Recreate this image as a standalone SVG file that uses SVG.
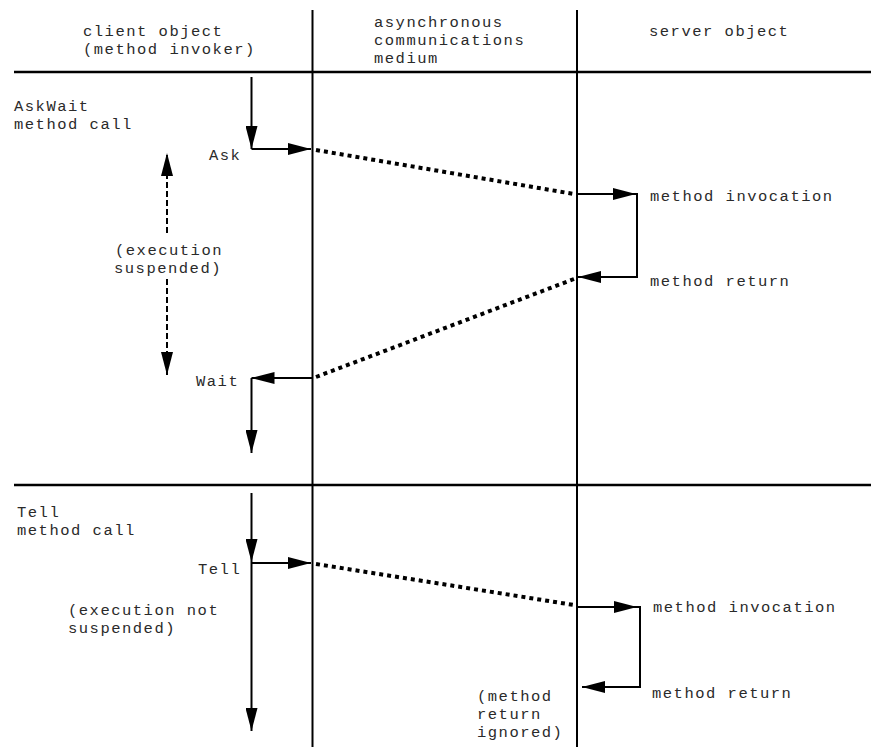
<svg xmlns="http://www.w3.org/2000/svg" width="871" height="747" viewBox="0 0 871 747">
  <style>
    text { font-family: "Liberation Mono", "DejaVu Sans Mono", monospace; font-size: 15.5px; letter-spacing: 1.5px; fill: #2a2a2a; }
    .rule { stroke: #000; stroke-width: 2.5; fill: none; }
    .life { stroke: #000; stroke-width: 2; fill: none; }
    .flow { stroke: #000; stroke-width: 2; fill: none; }
    .msg { stroke: #000; stroke-width: 4; fill: none; stroke-dasharray: 4 4; }
    .span { stroke: #000; stroke-width: 2; fill: none; stroke-dasharray: 6 3; }
  </style>
  <defs>
    <marker id="head" viewBox="0 0 23 12" refX="23" refY="6" markerWidth="23" markerHeight="12" markerUnits="userSpaceOnUse" orient="auto">
      <path d="M0,0 L23,6 L0,12 z" fill="#000"/>
    </marker>
  </defs>

  <rect width="871" height="747" fill="#fff"/>

  <!-- column frame -->
  <g id="frame">
    <line class="rule" x1="14" y1="72" x2="871" y2="72"/>
    <line class="rule" x1="14" y1="485" x2="871" y2="485"/>
    <line class="life" x1="312.5" y1="10" x2="312.5" y2="747"/>
    <line class="life" x1="577" y1="10" x2="577" y2="747"/>
  </g>

  <!-- column headings -->
  <g id="head-client">
    <text x="83" y="36">client object</text>
    <text x="83" y="54">(method invoker)</text>
  </g>
  <g id="head-medium">
    <text x="374" y="27">asynchronous</text>
    <text x="374" y="45">communications</text>
    <text x="374" y="63">medium</text>
  </g>
  <g id="head-server">
    <text x="649" y="36">server object</text>
  </g>

  <!-- AskWait section labels -->
  <g id="askwait-title">
    <text x="14" y="111">AskWait</text>
    <text x="14" y="129">method call</text>
  </g>
  <g id="ask-label"><text x="209" y="160">Ask</text></g>
  <g id="askwait-invocation"><text x="650" y="201">method invocation</text></g>
  <g id="askwait-return"><text x="650" y="286">method return</text></g>
  <g id="suspended-label">
    <text x="115" y="255">(execution</text>
    <text x="114" y="273">suspended)</text>
  </g>
  <g id="wait-label"><text x="196" y="386">Wait</text></g>

  <!-- Tell section labels -->
  <g id="tell-title">
    <text x="17" y="517">Tell</text>
    <text x="17" y="535">method call</text>
  </g>
  <g id="tell-label"><text x="198" y="574">Tell</text></g>
  <g id="not-suspended-label">
    <text x="68" y="615">(execution not</text>
    <text x="68" y="633">suspended)</text>
  </g>
  <g id="tell-invocation"><text x="653" y="612">method invocation</text></g>
  <g id="tell-return"><text x="652" y="698">method return</text></g>
  <g id="ignored-label">
    <text x="477" y="701">(method</text>
    <text x="477" y="719">return</text>
    <text x="477" y="737">ignored)</text>
  </g>

  <!-- connectors -->
  <g id="connectors">
    <!-- AskWait: client side -->
    <line class="flow" x1="251.5" y1="77" x2="251.5" y2="149" marker-end="url(#head)"/>
    <line class="flow" x1="251.5" y1="149" x2="311" y2="149" marker-end="url(#head)"/>
    <line class="msg" x1="316" y1="150" x2="574" y2="194"/>
    <!-- AskWait: server side -->
    <line class="flow" x1="577" y1="194" x2="636" y2="194" marker-end="url(#head)"/>
    <polyline class="flow" points="636,194 637,194 637,277 578,277" marker-end="url(#head)"/>
    <line class="msg" x1="574" y1="279" x2="316" y2="377"/>
    <!-- AskWait: reply back to the client -->
    <line class="flow" x1="312" y1="378" x2="251.5" y2="378" marker-end="url(#head)"/>
    <line class="flow" x1="251.5" y1="378" x2="251.5" y2="453" marker-end="url(#head)"/>
    <!-- suspended interval -->
    <line class="span" x1="167" y1="233" x2="167" y2="153" marker-end="url(#head)"/>
    <line class="span" x1="167" y1="279" x2="167" y2="375" marker-end="url(#head)"/>

    <!-- Tell: client side -->
    <line class="flow" x1="251.5" y1="493" x2="251.5" y2="562" marker-end="url(#head)"/>
    <line class="flow" x1="251.5" y1="562" x2="251.5" y2="731" marker-end="url(#head)"/>
    <line class="flow" x1="251.5" y1="563" x2="311" y2="563" marker-end="url(#head)"/>
    <line class="msg" x1="316" y1="564" x2="574" y2="605"/>
    <!-- Tell: server side -->
    <line class="flow" x1="578" y1="607" x2="637" y2="607" marker-end="url(#head)"/>
    <polyline class="flow" points="637,607 640,607 640,687 582,687" marker-end="url(#head)"/>
  </g>
</svg>
